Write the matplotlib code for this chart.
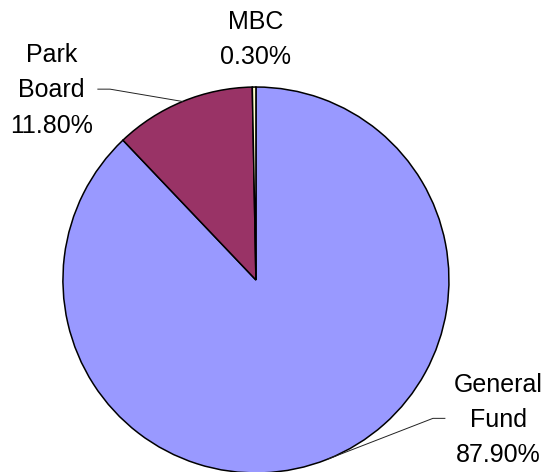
import numpy as np
import matplotlib
matplotlib.use('Agg')
import matplotlib.pyplot as plt

# --- Data ---
labels = ['General Fund', 'Park Board', 'MBC']
label_text = ['General\nFund', 'Park\nBoard', 'MBC']
shares = [87.9, 11.8, 0.3]
colors = ['#9999FF', '#993366', '#FFFFCC']

plt.rcParams['font.family'] = ['Liberation Sans', 'DejaVu Sans']

fig = plt.figure(figsize=(5.47, 4.72), dpi=100)
ax = fig.add_axes([0, 0, 1, 1])

wedges, _ = ax.pie(
    shares,
    colors=colors,
    startangle=90,
    counterclock=False,
    radius=1,
    wedgeprops=dict(edgecolor='black', linewidth=1.1),
)

# view so the pie sits where it does in the original
ax.set_xlim(-1.326, 1.508)
ax.set_ylim(-0.995, 1.451)
ax.set_aspect('auto')
ax.axis('off')

# label placement (text centre) and leader elbows, per slice
text_pos = [(1.257, -0.726), (-1.06, 0.984), (0.0, 1.246)]
elbows = [[(0.917, -0.717), (0.979, -0.717)],
          [(-0.756, 0.989), (-0.819, 0.989)],
          None]

for w, name, val, pos, elb in zip(wedges, label_text, shares, text_pos, elbows):
    ax.text(pos[0], pos[1], f'{name}\n{val:.2f}%', ha='center', va='center',
            fontsize=18, linespacing=1.6, color='black')
    if elb is None:
        continue
    mid = np.deg2rad((w.theta1 + w.theta2) / 2)
    pts = [(np.cos(mid), np.sin(mid))] + elb
    xs, ys = zip(*pts)
    ax.plot(xs, ys, color='#222222', lw=0.7)

fig.savefig('out.png', dpi=100)
